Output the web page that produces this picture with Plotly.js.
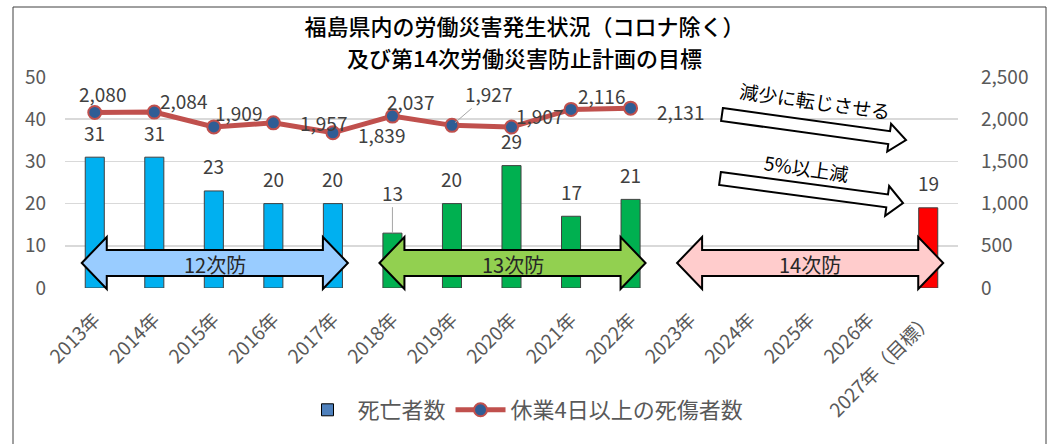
<!DOCTYPE html>
<html><head><meta charset="utf-8">
<script src="https://cdn.plot.ly/plotly-3.0.1.min.js"></script>
<style>html,body{margin:0;padding:0;background:#fff}</style>
</head><body><div id="chart" style="width:1049px;height:444px"></div>
<script>
// ---- data ----
const categories = ['2013年','2014年','2015年','2016年','2017年','2018年','2019年','2020年','2021年','2022年','2023年','2024年','2025年','2026年','2027年（目標）'];
const deaths = [31,31,23,20,20,13,20,29,17,21,null,null,null,null,19];
const injuryYears = ['2013年','2014年','2015年','2016年','2017年','2018年','2019年','2020年','2021年','2022年'];
const injuries = [2080,2084,1909,1957,1839,2037,1927,1907,2116,2131];
const planNames = ['12次防','13次防','14次防'];
const planFirstYear = ['2013年','2018年','2023年'];
const planLastYear = ['2017年','2022年','2027年（目標）'];
const targetNotes = ['減少に転じさせる','5%以上減'];
const titleLines = ['福島県内の労働災害発生状況（コロナ除く）','及び第14次労働災害防止計画の目標'];
const seriesNames = ['死亡者数','休業4日以上の死傷者数'];

// ---- styles / geometry ----
const FONT = '"Noto Sans CJK JP", "Noto Sans", sans-serif';
const barPlanColors = ['#00B0F0','#00B050','#FF0000'];
const arrowPlanColors = ['#99CCFF','#92D050','#FFCCCC'];
const L=65, R=958, T=77, B=288, W=R-L, H=B-T;
const step = W/categories.length;
const cx = i => L + step*(i+0.5);
const px = x => (x-L)/W;
const py = y => (B-y)/H;
const planOf = i => planFirstYear.findIndex((f,p)=> i>=categories.indexOf(f) && i<=categories.indexOf(planLastYear[p]));
const barColors = categories.map((c,i)=> barPlanColors[planOf(i)]);

function pathOf(pts){ return 'M' + pts.map(p=> px(p[0]).toFixed(5)+','+py(p[1]).toFixed(5)).join(' L') + ' Z'; }
function blockArrow(S,Tp,hw,hh,hl){
  const dx=Tp[0]-S[0], dy=Tp[1]-S[1], len=Math.hypot(dx,dy);
  const u=[dx/len,dy/len], n=[-u[1],u[0]];
  const at=(d,o)=>[S[0]+u[0]*d+n[0]*o, S[1]+u[1]*d+n[1]*o];
  return [at(0,-hw),at(len-hl,-hw),at(len-hl,-hh),Tp,at(len-hl,hh),at(len-hl,hw),at(0,hw)];
}
function doubleArrow(l,r,yc,hw,hh,hl){
  return [[l,yc],[l+hl,yc-hh],[l+hl,yc-hw],[r-hl,yc-hw],[r-hl,yc-hh],[r,yc],[r-hl,yc+hh],[r-hl,yc+hw],[l+hl,yc+hw],[l+hl,yc+hh]];
}

const shapes = [];
const annotations = [];
const LBL = {size:19, color:'#404040'};
const TITLEFONT = {family:FONT, size:22, color:'#000', weight:500};

// outer frame
shapes.push({type:'rect', xref:'paper', yref:'paper', x0:px(13), x1:px(1046), y0:py(460), y1:py(7), line:{color:'#404040', width:1}, fillcolor:'rgba(0,0,0,0)', layer:'below'});

// second title line
annotations.push({xref:'paper', yref:'paper', x:px(524.5), y:py(57), text:titleLines[1], showarrow:false, font:TITLEFONT, xanchor:'center', yanchor:'middle'});

// plan double arrows
planNames.forEach((name,p)=>{
  const l = cx(categories.indexOf(planFirstYear[p])) - 13;
  const r = cx(categories.indexOf(planLastYear[p])) + 15;
  shapes.push({type:'path', xref:'paper', yref:'paper', path:pathOf(doubleArrow(l,r,263,13,26,25)), fillcolor:arrowPlanColors[p], line:{color:'#000', width:2}});
  annotations.push({xref:'paper', yref:'paper', x:px((l+r)/2), y:py(264), text:name, showarrow:false, font:{size:20, color:'#262626'}, xanchor:'center', yanchor:'middle'});
});

// target arrows
const diag = [
  {S:[722,114.5], T:[906,140], hw:6.5, hh:14, hl:17, tx:815, ty:101, fs:19},
  {S:[720,178.5], T:[903,203], hw:6.5, hh:15, hl:16, tx:806, ty:167, fs:19}
];
diag.forEach((d,k)=>{
  shapes.push({type:'path', xref:'paper', yref:'paper', path:pathOf(blockArrow(d.S,d.T,d.hw,d.hh,d.hl)), fillcolor:'#FFFFFF', line:{color:'#000', width:2}});
  annotations.push({xref:'paper', yref:'paper', x:px(d.tx), y:py(d.ty), text:targetNotes[k], showarrow:false, textangle:8, font:{size:d.fs, color:'#000'}, xanchor:'center', yanchor:'middle'});
});

// bar labels
deaths.forEach((v,i)=>{
  if(v===null) return;
  if(categories[i]==='2018年'){
    annotations.push({x:categories[i], y:v, xref:'x', yref:'y', text:String(v), showarrow:true, arrowhead:0, arrowwidth:1, arrowcolor:'#A6A6A6', ax:0, ay:-41, standoff:0, font:LBL});
  } else {
    annotations.push({x:categories[i], y:v, xref:'x', yref:'y', text:String(v), showarrow:false, yshift:25, font:LBL, yanchor:'middle'});
  }
});
// line labels
const lineLabelShift = [[8,19],[29,12],[25,14],[50,0],[49,-2],[18,15],null,[28,12],[30,14],[50,-3]];
injuries.forEach((v,i)=>{
  const txt = v.toLocaleString('en-US');
  const s = lineLabelShift[i];
  if(s===null){
    annotations.push({x:injuryYears[i], y:v, xref:'x', yref:'y2', text:txt, showarrow:true, arrowhead:0, arrowwidth:1, arrowcolor:'#A6A6A6', ax:37, ay:-32, standoff:4, font:LBL});
  } else {
    annotations.push({x:injuryYears[i], y:v, xref:'x', yref:'y2', text:txt, showarrow:false, xshift:s[0], yshift:s[1], font:LBL, yanchor:'middle'});
  }
});

const traces = [
  {type:'bar', x:[categories[0]], y:[null], name:seriesNames[0], marker:{color:'#4F81BD', line:{color:'#000', width:1}}, showlegend:true, hoverinfo:'skip'},
  {type:'bar', x:categories, y:deaths, name:seriesNames[0], marker:{color:barColors, line:{color:'#404040', width:1}}, showlegend:false},
  {type:'scatter', mode:'lines+markers', x:injuryYears, y:injuries, yaxis:'y2', name:seriesNames[1],
   line:{color:'#C0504D', width:5}, marker:{size:13, color:'#2F5D95', line:{color:'#C0504D', width:2}}}
];

const layout = {
  width:1049, height:444,
  margin:{l:L, r:1049-R, t:T, b:444-B, pad:0},
  paper_bgcolor:'#fff', plot_bgcolor:'#fff',
  font:{family:FONT, color:'#595959'},
  title:{text:titleLines[0], font:TITLEFONT, x:0.5, xref:'container', xanchor:'center', y:1-27/444, yref:'container', yanchor:'middle'},
  barmode:'overlay', bargap:0.68,
  xaxis:{type:'category', categoryarray:categories, categoryorder:'array', range:[-0.5,categories.length-0.5], tickangle:-45, tickfont:{size:19,color:'#595959'}, showgrid:false, showline:false, ticks:'', ticklabelstandoff:16, fixedrange:true},
  yaxis:{range:[0,50], dtick:10, tickfont:{size:19,color:'#595959'}, gridcolor:'#D9D9D9', gridwidth:1.5, zeroline:false, showline:false, ticks:'', ticklabelstandoff:18},
  yaxis2:{overlaying:'y', side:'right', range:[0,2500], dtick:500, tickformat:',d', tickfont:{size:19,color:'#595959'}, showgrid:false, zeroline:false, showline:false, ticks:'', ticklabelstandoff:22},
  legend:{orientation:'h', x:px(523), xanchor:'center', y:py(410), yanchor:'middle', font:{size:22,color:'#595959'}, itemwidth:50, bgcolor:'rgba(0,0,0,0)'},
  shapes:shapes, annotations:annotations, showlegend:true
};
Plotly.newPlot('chart', traces, layout, {displayModeBar:false, staticPlot:true});
</script></body></html>
